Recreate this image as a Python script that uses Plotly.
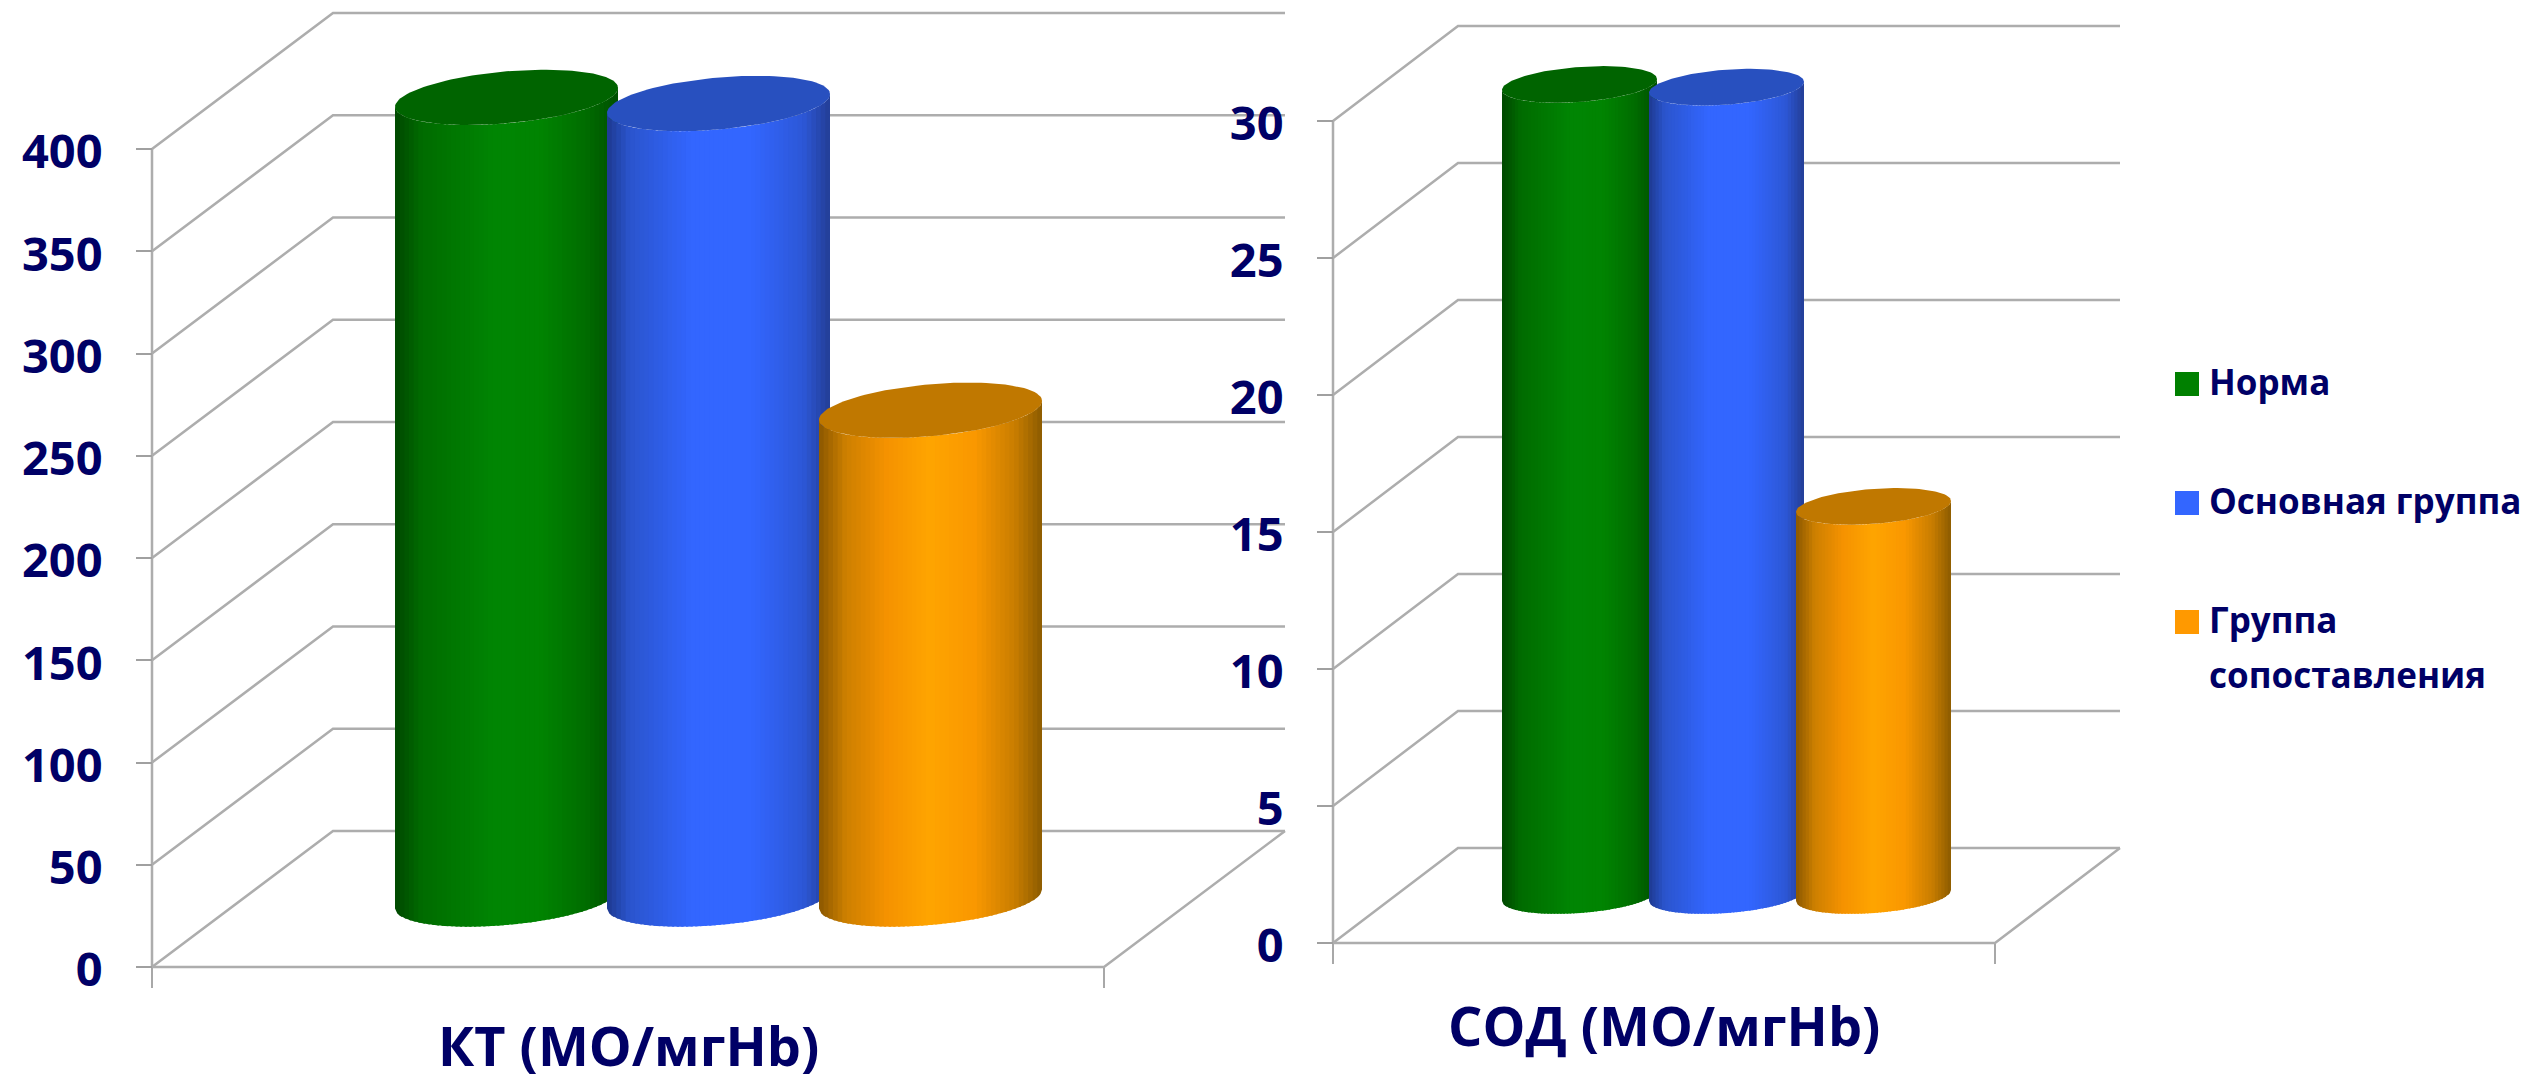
import numpy as np
import plotly.graph_objects as go

# ---- data ----
groups = ["Норма", "Основная группа", "Группа<br>сопоставления"]
kt_values = [392, 389, 239]
sod_values = [29.6, 29.5, 14.2]
kt_ticks = [0, 50, 100, 150, 200, 250, 300, 350, 400]
sod_ticks = [0, 5, 10, 15, 20, 25, 30]
kt_title = "КТ (МО/мгHb)"
sod_title = "СОД (МО/мгHb)"

# ---- style ----
W, H = 2537, 1081
NAVY = "#000066"
GRID = "#adadad"
FONT = "Open Sans"
legend_colors = ["#008000", "#3366ff", "#ff9900"]
top_colors = ["#006400", "#2850bf", "#c07800"]
ramps = [
    [(0, (0, 72, 0)), (.12, (0, 108, 0)), (.45, (0, 134, 4)), (.65, (0, 132, 2)), (.85, (0, 110, 0)), (1, (0, 80, 0))],
    [(0, (30, 58, 145)), (.10, (43, 85, 205)), (.38, (51, 102, 255)), (.65, (51, 102, 255)), (.88, (45, 88, 215)), (1, (36, 62, 150))],
    [(0, (140, 88, 0)), (.12, (205, 128, 0)), (.30, (245, 146, 0)), (.50, (255, 165, 0)), (.70, (250, 152, 0)), (.88, (200, 125, 0)), (1, (140, 92, 0))],
]


def ramp_colour(stops, u):
    xs = [s[0] for s in stops]
    return "rgb(%d,%d,%d)" % tuple(np.interp(u, xs, [s[1][c] for s in stops]) for c in range(3))


def add_chart(fig, n, values, ticks, title, geom):
    xa, ya = f"x{n}" if n > 1 else "x", f"y{n}" if n > 1 else "y"
    px_left, px_zero, px_per = geom["left"], geom["zero"], geom["scale"]
    fw, dx, dy_px = geom["width"], geom["dx"], geom["dy"]
    depth = dy_px / px_per
    lineopts = dict(color=GRID, width=2.5)

    def line(xs, ys):
        fig.add_trace(go.Scatter(x=xs, y=ys, mode="lines", line=lineopts, xaxis=xa, yaxis=ya,
                                 showlegend=False, hoverinfo="skip"))

    # walls and floor
    for t in ticks:
        line([0, dx, dx + fw], [t, t + depth, t + depth])
    line([0, 0], [0, ticks[-1]])
    line([0, fw, fw + dx], [0, 0, depth])

    # cylinders
    a = geom["radius"]
    b, k = geom["b"] / px_per, geom["k"] / px_per
    mid = dx / 2 + fw / 2
    edge = np.linspace(-1, 1, 49)
    for i, v in enumerate(values):
        cx = mid + (i - 1) * geom["spacing"]
        for u0, u1 in zip(edge[:-1], edge[1:]):
            u1x = min(u1 + 0.02, 1.0)
            uu = np.linspace(u0, u1x, 4)
            curve = k * uu - b * np.sqrt(np.clip(1 - uu ** 2, 0, 1))
            xs = cx + a * uu
            px = np.r_[xs, xs[::-1]]
            py = np.r_[depth / 2 + curve, (v + depth / 2 + curve)[::-1]]
            fig.add_trace(go.Scatter(x=px, y=py, mode="lines", fill="toself", line=dict(width=0),
                                     fillcolor=ramp_colour(ramps[i], (u0 + u1 + 2) / 4),
                                     xaxis=xa, yaxis=ya, showlegend=False, hoverinfo="skip"))
        th = np.linspace(0, 2 * np.pi, 121)
        fig.add_trace(go.Scatter(x=cx + a * np.cos(th),
                                 y=v + depth / 2 + k * np.cos(th) + b * np.sin(th),
                                 mode="lines", fill="toself", line=dict(width=0), fillcolor=top_colors[i],
                                 xaxis=xa, yaxis=ya, showlegend=False, hoverinfo="skip"))

    # axes
    x0, x1 = geom["dom_x"]
    y_top, y_bot = geom["dom_y"]
    x_range = [x0 - px_left, x1 - px_left]
    y_range = [(px_zero - y_bot) / px_per, (px_zero - y_top) / px_per]
    xkey, ykey = ("xaxis", "yaxis") if n == 1 else (f"xaxis{n}", f"yaxis{n}")
    fig.update_layout(**{
        xkey: dict(domain=[x0 / W, x1 / W], range=x_range, anchor="free",
                   position=1 - px_zero / H, tickmode="array", tickvals=[0, fw],
                   ticktext=["", ""], ticks="outside", ticklen=20, tickcolor="#a8a8a8", tickwidth=1.5,
                   showgrid=False, zeroline=False, showline=False, fixedrange=True),
        ykey: dict(domain=[1 - y_bot / H, 1 - y_top / H], range=y_range, anchor="free",
                   position=px_left / W, tickmode="array", tickvals=ticks, ticks="outside",
                   ticklen=16, tickcolor="#a0a0a0", tickwidth=2, ticklabelstandoff=geom["standoff"],
                   ticklabelshift=3,
                   tickfont=dict(family=FONT, size=47, color=NAVY, weight=700),
                   showgrid=False, zeroline=False, showline=False, fixedrange=True),
    })
    fig.add_annotation(x=fw / 2, y=1 - geom["title_y"] / H, xref=xa, yref="paper", text=title,
                       showarrow=False, xanchor="center", yanchor="middle",
                       font=dict(family=FONT, size=54, color=NAVY, weight=700))


fig = go.Figure()
add_chart(fig, 1, kt_values, kt_ticks, kt_title,
          dict(left=152, zero=967, scale=102.25 / 50, width=952, dx=181, dy=136, spacing=212, radius=111.5,
               b=26, k=9.5, dom_x=(140, 1292), dom_y=(5, 1000), standoff=24, title_y=1045))
add_chart(fig, 2, sod_values, sod_ticks, sod_title,
          dict(left=1333, zero=943, scale=137 / 5, width=662, dx=125, dy=95, spacing=147, radius=77.5,
               b=17.5, k=5.5, dom_x=(1325, 2127), dom_y=(15, 985), standoff=24, title_y=1025))

# legend block: square swatches and labels, spaced like the reference
leg_x0, leg_y0, leg_x1, leg_y1 = 2150, 350, 2537, 720
row_y = [384 + 119 * i for i in range(len(groups))]
fig.add_trace(go.Scatter(x=[2187] * len(groups), y=row_y, mode="markers", xaxis="x3", yaxis="y3",
                         marker=dict(symbol="square", size=24, color=legend_colors, line=dict(width=0)),
                         showlegend=False, hoverinfo="skip"))
label_x, label_y, label_text = [], [], []
for y0, name in zip(row_y, groups):
    for j, part in enumerate(name.split("<br>")):
        label_x.append(2209)
        label_y.append(y0 + 2 + 55 * j)
        label_text.append(part)
fig.add_trace(go.Scatter(x=label_x, y=label_y, text=label_text, mode="text", textposition="middle right",
                         textfont=dict(family=FONT, size=35, color=NAVY, weight=700), xaxis="x3", yaxis="y3",
                         showlegend=False, hoverinfo="skip", cliponaxis=False))

fig.update_layout(
    width=W, height=H, margin=dict(l=0, r=0, t=0, b=0, pad=0), autosize=False, showlegend=False,
    paper_bgcolor="white", plot_bgcolor="rgba(0,0,0,0)", hovermode=False,
    font=dict(family=FONT, color=NAVY),
    xaxis3=dict(domain=[leg_x0 / W, leg_x1 / W], range=[leg_x0, leg_x1], visible=False, fixedrange=True, anchor="y3"),
    yaxis3=dict(domain=[1 - leg_y1 / H, 1 - leg_y0 / H], range=[leg_y1, leg_y0], visible=False, fixedrange=True, anchor="x3"),
)

fig.write_html("out.html", config=dict(displayModeBar=False, responsive=False),
               post_script="document.body.style.margin='0';document.body.style.overflow='hidden';")
